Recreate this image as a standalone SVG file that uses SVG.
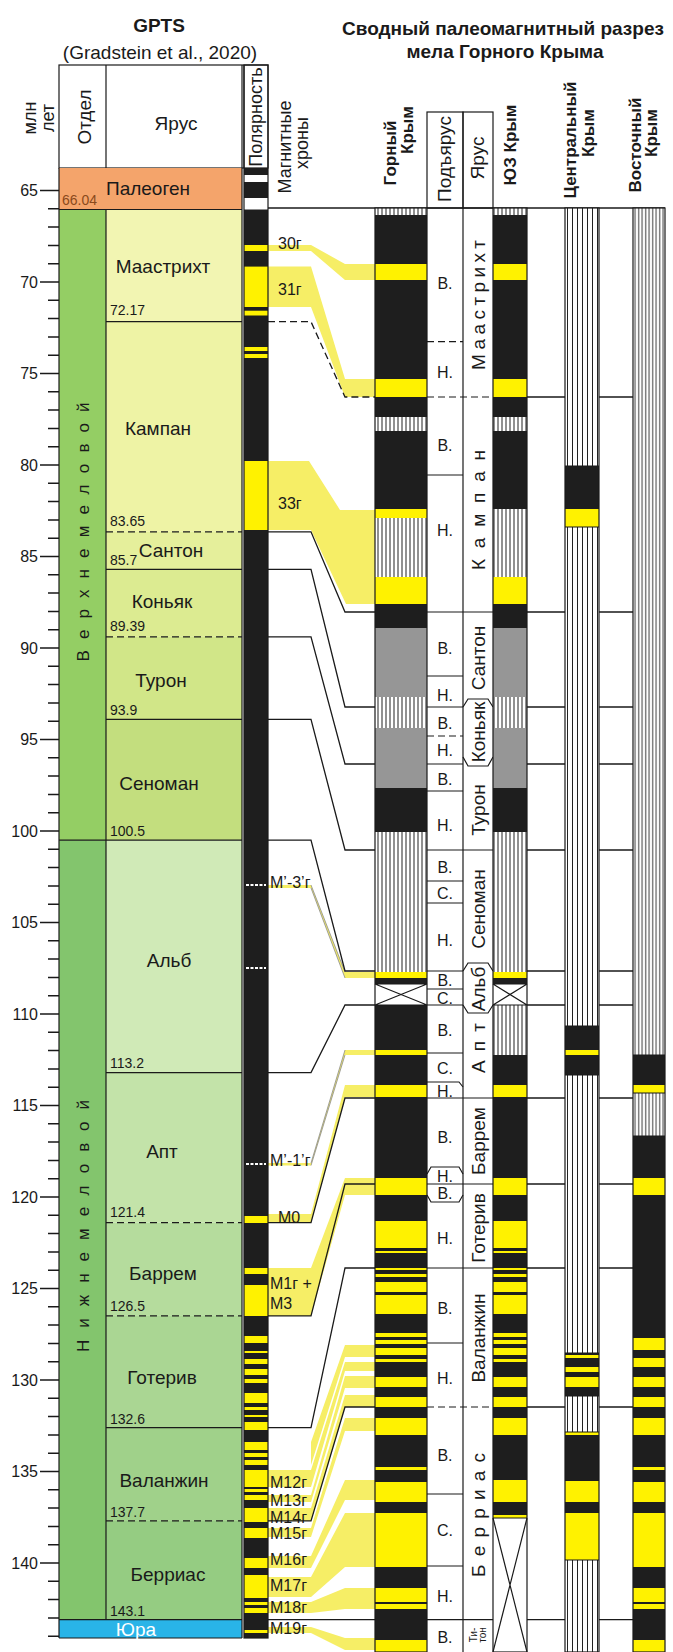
<svg xmlns="http://www.w3.org/2000/svg" width="673" height="1652" viewBox="0 0 673 1652">
<defs>
<pattern id="hg" x="0" y="0" width="4" height="10" patternUnits="userSpaceOnUse"><rect width="4" height="10" fill="#fff"/><rect x="1.5" width="1" height="10" fill="#222"/></pattern>
<pattern id="hc" x="0" y="0" width="5" height="10" patternUnits="userSpaceOnUse"><rect width="5" height="10" fill="#fff"/><rect x="2" width="1" height="10" fill="#222"/></pattern>
<pattern id="he" x="0" y="0" width="3.5" height="10" patternUnits="userSpaceOnUse"><rect width="3.5" height="10" fill="#fff"/><rect x="1.2" width="0.9" height="10" fill="#222"/></pattern>
</defs>
<style>
text{font-family:"Liberation Sans",Arial,sans-serif;fill:#1a1a1a}
.b{font-weight:bold}
.f19{font-size:19px}
.f18{font-size:18px}
.f17{font-size:17px}
.f16{font-size:16px}
.f14{font-size:14px;fill:#2a2a2a}
.f10{font-size:10px}
.m{text-anchor:middle}
.e{text-anchor:end}
.bk{fill:#1e1e1e}
.yl{fill:#fff200}
.gr{fill:#969696}
.hg{fill:url(#hg)}
.hc{fill:url(#hc)}
.he{fill:url(#he)}
.ol{fill:none;stroke:#1a1a1a;stroke-width:1.2}
.ln{fill:none;stroke:#1a1a1a;stroke-width:1.3}
.ds{stroke-dasharray:7 4}
.band{fill:#f6ee66}
.thin{fill:none;stroke:#8a8a8a;stroke-width:0.8}
.tick{fill:none;stroke:#1a1a1a;stroke-width:1.5}
</style>
<rect width="673" height="1652" fill="#fff"/>

<g id="titles">
<text class="b f19 m" x="159" y="32">GPTS</text>
<text class="f19 m" x="160" y="59">(Gradstein et al., 2020)</text>
<text class="b f19 m" x="503" y="35">Сводный палеомагнитный разрез</text>
<text class="b f19 m" x="505" y="58">мела Горного Крыма</text>
</g>

<g id="gpts-header">
<rect class="ol" x="59" y="65" width="209" height="103" fill="#fff"/>
<path class="ol" d="M106,65V168M242,65V168M244,65V168"/>
<text class="f18 m" transform="rotate(-90 36.3 118)" x="36.3" y="118">млн</text>
<text class="f18 m" transform="rotate(-90 53.8 118)" x="53.8" y="118">лет</text>
<text class="f19 m" transform="rotate(-90 91 117)" x="91" y="117">Отдел</text>
<text class="f19 m" x="176" y="130">Ярус</text>
<text class="f18 m" transform="rotate(-90 262 117)" x="262" y="117">Полярность</text>
<text class="f18 m" transform="rotate(-90 291 147)" x="291" y="147">Магнитные</text>
<text class="f18 m" transform="rotate(-90 308 143)" x="308" y="143">хроны</text>
</g>

<g id="gpts-scale">
<path class="tick" d="M40,190.5H59M40,282H59M40,373.5H59M40,465H59M40,556.5H59M40,648H59M40,739.5H59M40,831H59M40,922.5H59M40,1014H59M40,1105.5H59M40,1197H59M40,1288.5H59M40,1380H59M40,1471.5H59M40,1563H59"/>
<path class="tick" d="M48,208.8H59M48,227.1H59M48,245.4H59M48,263.7H59M48,300.3H59M48,318.6H59M48,336.9H59M48,355.2H59M48,391.8H59M48,410.1H59M48,428.4H59M48,446.7H59M48,483.3H59M48,501.6H59M48,519.9H59M48,538.2H59M48,574.8H59M48,593.1H59M48,611.4H59M48,629.7H59M48,666.3H59M48,684.6H59M48,702.9H59M48,721.2H59M48,757.8H59M48,776.1H59M48,794.4H59M48,812.7H59M48,849.3H59M48,867.6H59M48,885.9H59M48,904.2H59M48,940.8H59M48,959.1H59M48,977.4H59M48,995.7H59M48,1032.3H59M48,1050.6H59M48,1068.9H59M48,1087.2H59M48,1123.8H59M48,1142.1H59M48,1160.4H59M48,1178.7H59M48,1215.3H59M48,1233.6H59M48,1251.9H59M48,1270.2H59M48,1306.8H59M48,1325.1H59M48,1343.4H59M48,1361.7H59M48,1398.3H59M48,1416.6H59M48,1434.9H59M48,1453.2H59M48,1489.8H59M48,1508.1H59M48,1526.4H59M48,1544.7H59M48,1581.3H59M48,1599.6H59M48,1617.9H59M48,1636.2H59"/>
<g class="f16">
<text class="e" x="38" y="196.1">65</text>
<text class="e" x="38" y="287.6">70</text>
<text class="e" x="38" y="379.1">75</text>
<text class="e" x="38" y="470.6">80</text>
<text class="e" x="38" y="562.1">85</text>
<text class="e" x="38" y="653.6">90</text>
<text class="e" x="38" y="745.1">95</text>
<text class="e" x="38" y="836.6">100</text>
<text class="e" x="38" y="928.1">105</text>
<text class="e" x="38" y="1019.6">110</text>
<text class="e" x="38" y="1111.1">115</text>
<text class="e" x="38" y="1202.6">120</text>
<text class="e" x="38" y="1294.1">125</text>
<text class="e" x="38" y="1385.6">130</text>
<text class="e" x="38" y="1477.1">135</text>
<text class="e" x="38" y="1568.6">140</text>
</g>
</g>

<g id="gpts-stages">
<rect x="59" y="168" width="183" height="41.5" fill="#f4a46b"/>
<rect x="59" y="209.5" width="47" height="630.7" fill="#94ce64"/>
<rect x="59" y="840.2" width="47" height="779.5" fill="#83c56d"/>
<rect x="106" y="209.5" width="136" height="112.2" fill="#f2f5b2"/>
<rect x="106" y="321.7" width="136" height="210.1" fill="#eef3a5"/>
<rect x="106" y="531.8" width="136" height="37.5" fill="#e5ef9b"/>
<rect x="106" y="569.3" width="136" height="67.5" fill="#dceb91"/>
<rect x="106" y="636.8" width="136" height="82.6" fill="#d1e688"/>
<rect x="106" y="719.4" width="136" height="120.8" fill="#c3de7e"/>
<rect x="106" y="840.2" width="136" height="232.4" fill="#d0eab7"/>
<rect x="106" y="1072.6" width="136" height="150" fill="#c3e3a9"/>
<rect x="106" y="1222.6" width="136" height="93.3" fill="#b5dc9d"/>
<rect x="106" y="1315.9" width="136" height="111.7" fill="#aad693"/>
<rect x="106" y="1427.6" width="136" height="93.3" fill="#a0d18a"/>
<rect x="106" y="1520.9" width="136" height="98.8" fill="#95cc82"/>
<rect x="59" y="1619.7" width="183" height="18.3" fill="#29b4e8"/>
<path class="ol" d="M59,168V1638M106,209.5V1619.7M242,168V1638M59,1638H242M59,209.5H242M59,840.2H242M59,1619.7H242M106,321.7H242M106,569.3H242M106,719.4H242M106,1072.6H242M106,1427.6H242"/>
<path class="ol ds" d="M106,531.8H242M106,636.8H242M106,1222.6H242M106,1315.9H242M106,1520.9H242"/>
<text class="f17 m" transform="rotate(-90 89 532)" x="89" y="532" textLength="259" lengthAdjust="spacing" fill="#333">Верхнемеловой</text>
<text class="f17 m" transform="rotate(-90 89 1226)" x="89" y="1226" textLength="252" lengthAdjust="spacing" fill="#333">Нижнемеловой</text>
<g class="f19 m">
<text x="148" y="194.6">Палеоген</text>
<text x="163" y="272.6">Маастрихт</text>
<text x="158" y="434.6">Кампан</text>
<text x="171" y="556.6">Сантон</text>
<text x="162" y="607.6">Коньяк</text>
<text x="161" y="686.6">Турон</text>
<text x="159" y="789.6">Сеноман</text>
<text x="169" y="966.6">Альб</text>
<text x="162" y="1157.6">Апт</text>
<text x="163" y="1279.6">Баррем</text>
<text x="162" y="1383.6">Готерив</text>
<text x="164" y="1486.6">Валанжин</text>
<text x="168" y="1580.6">Берриас</text>
<text x="136" y="1636" style="fill:#fff">Юра</text>
</g>
<g class="f14">
<text x="62" y="205" style="fill:#8a4a1c">66.04</text>
<text x="110" y="315">72.17</text>
<text x="110" y="526">83.65</text>
<text x="110" y="565">85.7</text>
<text x="110" y="631">89.39</text>
<text x="110" y="715">93.9</text>
<text x="110" y="836">100.5</text>
<text x="110" y="1068">113.2</text>
<text x="110" y="1217">121.4</text>
<text x="110" y="1311">126.5</text>
<text x="110" y="1424">132.6</text>
<text x="110" y="1517">137.7</text>
<text x="110" y="1616">143.1</text>
</g>
</g>

<g id="connectors">
<g class="band">
<polygon points="268,245 311,245 345,264 375,264 375,280 345,280 311,251 268,251"/>
<polygon points="268,266.6 311,266.6 345,379 375,379 375,397 345,397 311,307 268,307"/>
<polygon points="268,461 309,461 340,510 375,510 375,604 346,604 311,530 268,530"/>
<polygon points="268,885 311,885 345,972 375,972 375,978 345,978 311,888 268,888"/>
<polygon points="268,1163 311,1163 345,1050 375,1050 375,1055 345,1055 311,1165.5 268,1165.5"/>
<polygon points="268,1214 311,1214 345,1085 375,1085 375,1097 345,1097 311,1223 268,1223"/>
<polygon points="268,1268 311,1268 345,1178 375,1178 375,1195 345,1195 311,1316 268,1316"/>
<polygon points="311,1442 345,1345 375,1345 375,1357 345,1357 311,1465"/>
<polygon points="268,1470 311,1470 345,1362 375,1362 375,1371 345,1371 311,1487 268,1487"/>
<polygon points="268,1495 311,1495 345,1376 375,1376 375,1388 345,1388 311,1502 268,1502"/>
<polygon points="268,1508 311,1508 345,1395 375,1395 375,1407 345,1407 311,1521 268,1521"/>
<polygon points="268,1528 311,1528 345,1418 375,1418 375,1431 345,1431 311,1537 268,1537"/>
<polygon points="268,1556 311,1556 345,1480 375,1480 375,1500 345,1500 311,1568 268,1568"/>
<polygon points="268,1577 311,1577 345,1513 375,1513 375,1567 345,1567 311,1597 268,1597"/>
<polygon points="268,1602 311,1602 345,1588 375,1588 375,1609 345,1609 311,1613 268,1613"/>
<polygon points="268,1627 311,1627 345,1638 375,1638 375,1650 345,1650 311,1633 268,1633"/>
</g>
<path class="thin" d="M311,885L345,972M311,888L345,978M311,1163L345,1050M311,1165.5L345,1055"/>
<path class="ln" d="M268,208H665"/>
<path class="ln ds" d="M268,321.7H311L345,397H375"/>
<path class="ln" d="M268,531.8H311L345,612H375M268,569.3H311L345,707H375M268,636.8H311L345,764H375M268,719.4H311L345,850H375M268,840.2H311L345,971H375M268,1072.6H311L345,1005H375M268,1222.6H311L345,1098H375M268,1315.9H311L345,1184H375M268,1427.6H311L345,1268H375M268,1520.9H311L345,1407H375M268,1619.7H375"/>
<path class="ln" d="M527,397H565M599,397H633M527,612H565M599,612H633M527,707H565M599,707H633M527,764H565M599,764H633M527,850H565M599,850H633M527,971H565M599,971H633M527,1005H565M599,1005H633M527,1098H565M599,1098H633M527,1184H565M599,1184H633M527,1268H565M599,1268H633M527,1407H565M599,1407H633M527,1619.7H565M599,1619.7H633"/>
</g>

<g id="gpts-polarity">
<rect class="bk" x="244" y="168" width="24" height="1470"/>
<rect x="244" y="175" width="24" height="7" fill="#fff"/>
<rect x="244" y="198" width="24" height="11.5" fill="#fff"/>
<g class="yl">
<rect x="244" y="245" width="24" height="6"/>
<rect x="244" y="266.6" width="24" height="40.4"/>
<rect x="244" y="310.7" width="24" height="4.8"/>
<rect x="244" y="347" width="24" height="4"/>
<rect x="244" y="354" width="24" height="4"/>
<rect x="244" y="461" width="24" height="69"/>
<rect x="244" y="1216" width="24" height="7"/>
<rect x="244" y="1268" width="24" height="6"/>
<rect x="244" y="1285" width="24" height="31"/>
<rect x="244" y="1336" width="24" height="7"/>
<rect x="244" y="1351" width="24" height="2"/>
<rect x="244" y="1359" width="24" height="5"/>
<rect x="244" y="1369" width="24" height="6"/>
<rect x="244" y="1379" width="24" height="4"/>
<rect x="244" y="1393" width="24" height="10"/>
<rect x="244" y="1407" width="24" height="3"/>
<rect x="244" y="1415" width="24" height="2"/>
<rect x="244" y="1422" width="24" height="8"/>
<rect x="244" y="1442" width="24" height="8"/>
<rect x="244" y="1453" width="24" height="4"/>
<rect x="244" y="1460" width="24" height="5"/>
<rect x="244" y="1470" width="24" height="17"/>
<rect x="244" y="1489" width="24" height="3"/>
<rect x="244" y="1495" width="24" height="5"/>
<rect x="244" y="1508" width="24" height="14"/>
<rect x="244" y="1528" width="24" height="10"/>
<rect x="244" y="1558" width="24" height="10"/>
<rect x="244" y="1575" width="24" height="23"/>
<rect x="244" y="1602" width="24" height="3"/>
<rect x="244" y="1608" width="24" height="5"/>
<rect x="244" y="1630" width="24" height="3"/>
</g>
<path d="M246,885H266M246,968H266M246,1164H266" stroke="#fff" stroke-width="2" stroke-dasharray="3 1.5"/>
<rect class="ol" x="244" y="65" width="24" height="1573"/>
</g>

<g id="chron-labels" class="f16">
<text x="278" y="249">30г</text>
<text x="278" y="295">31г</text>
<text x="278" y="509">33г</text>
<text x="270" y="888">M’-3’г</text>
<text x="270" y="1166">M’-1’г</text>
<text x="278" y="1223">M0</text>
<text x="270" y="1289">M1г +</text>
<text x="270" y="1309">M3</text>
<text x="270" y="1488">M12г</text>
<text x="270" y="1506">M13г</text>
<text x="270" y="1523">M14г</text>
<text x="270" y="1539">M15г</text>
<text x="270" y="1565">M16г</text>
<text x="270" y="1591">M17г</text>
<text x="270" y="1613">M18г</text>
<text x="270" y="1634">M19г</text>
</g>

<g id="section-header">
<text class="b f17 m" transform="rotate(-90 396 153)" x="396" y="153">Горный</text>
<text class="b f17 m" transform="rotate(-90 413 130)" x="413" y="130">Крым</text>
<rect class="ol" x="427" y="112" width="36" height="96"/>
<rect class="ol" x="463" y="112" width="30" height="96"/>
<text class="f19 m" transform="rotate(-90 450.6 159)" x="450.6" y="159">Подъярус</text>
<text class="f19 m" transform="rotate(-90 483.6 158)" x="483.6" y="158">Ярус</text>
<text class="b f17 m" transform="rotate(-90 516 145)" x="516" y="145">ЮЗ Крым</text>
<text class="b f17 m" transform="rotate(-90 576 140)" x="576" y="140">Центральный</text>
<text class="b f17 m" transform="rotate(-90 594 133)" x="594" y="133">Крым</text>
<text class="b f17 m" transform="rotate(-90 641 145)" x="641" y="145">Восточный</text>
<text class="b f17 m" transform="rotate(-90 657 133)" x="657" y="133">Крым</text>
</g>

<g id="col-gorny">
<rect class="bk" x="375" y="208" width="52" height="1444"/>
<g class="hg">
<rect x="375" y="208" width="52" height="7"/>
<rect x="375" y="417" width="52" height="14"/>
<rect x="375" y="518" width="52" height="59"/>
<rect x="375" y="697" width="52" height="31"/>
<rect x="375" y="832" width="52" height="140"/>
</g>
<g class="gr">
<rect x="375" y="628" width="52" height="69"/>
<rect x="375" y="728" width="52" height="60"/>
</g>
<g class="yl">
<rect x="375" y="264" width="52" height="16"/>
<rect x="375" y="379" width="52" height="18"/>
<rect x="375" y="509" width="52" height="9"/>
<rect x="375" y="577" width="52" height="27"/>
<rect x="375" y="972" width="52" height="6"/>
<rect x="375" y="1050" width="52" height="5"/>
<rect x="375" y="1085" width="52" height="12"/>
<rect x="375" y="1178" width="52" height="17"/>
<rect x="375" y="1221" width="52" height="27"/>
<rect x="375" y="1251" width="52" height="2"/>
<rect x="375" y="1268" width="52" height="2"/>
<rect x="375" y="1274" width="52" height="3"/>
<rect x="375" y="1282" width="52" height="10"/>
<rect x="375" y="1295" width="52" height="19"/>
<rect x="375" y="1333" width="52" height="4"/>
<rect x="375" y="1340" width="52" height="4"/>
<rect x="375" y="1348" width="52" height="7"/>
<rect x="375" y="1359" width="52" height="3"/>
<rect x="375" y="1377" width="52" height="10"/>
<rect x="375" y="1397" width="52" height="10"/>
<rect x="375" y="1418" width="52" height="17"/>
<rect x="375" y="1467" width="52" height="3"/>
<rect x="375" y="1482" width="52" height="20"/>
<rect x="375" y="1513" width="52" height="54"/>
<rect x="375" y="1588" width="52" height="14"/>
<rect x="375" y="1604" width="52" height="5"/>
<rect x="375" y="1640" width="52" height="12"/>
</g>
<rect x="375" y="984" width="52" height="21" fill="#fff"/>
<path class="ol" d="M375,984L427,1005M427,984L375,1005M375,984H427M375,1005H427"/>
<rect class="ol" x="375" y="208" width="52" height="1444"/>
</g>

<g id="col-podyarus">
<path class="ol" d="M463,208V1652"/>
<path class="ol" d="M427,475H463M427,676H463M427,791H463M427,881H463M427,903H463M427,989H463M427,1053H463M427,1343H463M427,1494H463M427,1566H463M427,707H463M427,764H463M427,971H463M427,1005H463M427,612H493M427,850H493M427,1098H493M427,1184H493M427,1268H493M427,1619.7H493"/>
<path class="ol ds" d="M427,341.7H463M427,736H463M427,397H493M427,1407H493"/>
<path class="ol" d="M427,1082H459L463,1087M427,1174L431,1167H459L463,1174M427,1195L431,1202H459L463,1195"/>
<g class="f16 m">
<text x="445" y="288.6">В.</text>
<text x="445" y="377.6">Н.</text>
<text x="445" y="450.6">В.</text>
<text x="445" y="535.6">Н.</text>
<text x="445" y="653.6">В.</text>
<text x="445" y="700.6">Н.</text>
<text x="445" y="728.6">В.</text>
<text x="445" y="755.6">Н.</text>
<text x="445" y="784.6">В.</text>
<text x="445" y="830.6">Н.</text>
<text x="445" y="872.6">В.</text>
<text x="445" y="898.6">С.</text>
<text x="445" y="945.6">Н.</text>
<text x="445" y="985.6">В.</text>
<text x="445" y="1003.6">С.</text>
<text x="445" y="1035.6">В.</text>
<text x="445" y="1073.6">С.</text>
<text x="445" y="1096.6">Н.</text>
<text x="445" y="1142.6">В.</text>
<text x="445" y="1181.6">Н.</text>
<text x="445" y="1198.6">В.</text>
<text x="445" y="1243.6">Н.</text>
<text x="445" y="1313.6">В.</text>
<text x="445" y="1383.6">Н.</text>
<text x="445" y="1460.6">В.</text>
<text x="445" y="1535.6">С.</text>
<text x="445" y="1601.6">Н.</text>
<text x="445" y="1642.6">В.</text>
</g>
</g>

<g id="col-yarus">
<path class="ol" d="M463,707L468,699H488L493,707M463,757L468,766H488L493,757M463,971L468,963H488L493,971M463,1005L468,1013H488L493,1005"/>
<g class="f19 m">
<text transform="rotate(-90 484.5 305)" x="484.5" y="305" textLength="130" lengthAdjust="spacing">Маастрихт</text>
<text transform="rotate(-90 484.5 510)" x="484.5" y="510" textLength="120" lengthAdjust="spacing">Кампан</text>
<text transform="rotate(-90 484.5 658)" x="484.5" y="658">Сантон</text>
<text transform="rotate(-90 484.5 732)" x="484.5" y="732">Коньяк</text>
<text transform="rotate(-90 484.5 810)" x="484.5" y="810">Турон</text>
<text transform="rotate(-90 484.5 909)" x="484.5" y="909">Сеноман</text>
<text transform="rotate(-90 484.5 989)" x="484.5" y="989">Альб</text>
<text transform="rotate(-90 484.5 1048)" x="484.5" y="1048" textLength="50" lengthAdjust="spacing">Апт</text>
<text transform="rotate(-90 484.5 1141)" x="484.5" y="1141">Баррем</text>
<text transform="rotate(-90 484.5 1228)" x="484.5" y="1228">Готерив</text>
<text transform="rotate(-90 484.5 1338)" x="484.5" y="1338">Валанжин</text>
<text transform="rotate(-90 484.5 1515)" x="484.5" y="1515" textLength="124" lengthAdjust="spacing">Берриас</text>
</g>
<text class="f10 m" transform="rotate(-90 477 1635)" x="477" y="1635">Ти-</text>
<text class="f10 m" transform="rotate(-90 486 1635)" x="486" y="1635">тон</text>
</g>

<g id="col-yuz">
<rect class="bk" x="493" y="208" width="34" height="1444"/>
<g class="hg">
<rect x="493" y="208" width="34" height="7"/>
<rect x="493" y="417" width="34" height="14"/>
<rect x="493" y="509" width="34" height="68"/>
<rect x="493" y="697" width="34" height="31"/>
<rect x="493" y="832" width="34" height="140"/>
<rect x="493" y="1005" width="34" height="50"/>
</g>
<g class="gr">
<rect x="493" y="628" width="34" height="69"/>
<rect x="493" y="728" width="34" height="60"/>
</g>
<g class="yl">
<rect x="493" y="264" width="34" height="16"/>
<rect x="493" y="379" width="34" height="18"/>
<rect x="493" y="577" width="34" height="27"/>
<rect x="493" y="972" width="34" height="6"/>
<rect x="493" y="1085" width="34" height="12"/>
<rect x="493" y="1178" width="34" height="17"/>
<rect x="493" y="1221" width="34" height="27"/>
<rect x="493" y="1251" width="34" height="2"/>
<rect x="493" y="1268" width="34" height="2"/>
<rect x="493" y="1274" width="34" height="3"/>
<rect x="493" y="1282" width="34" height="10"/>
<rect x="493" y="1295" width="34" height="19"/>
<rect x="493" y="1333" width="34" height="4"/>
<rect x="493" y="1340" width="34" height="4"/>
<rect x="493" y="1348" width="34" height="7"/>
<rect x="493" y="1359" width="34" height="3"/>
<rect x="493" y="1377" width="34" height="10"/>
<rect x="493" y="1397" width="34" height="10"/>
<rect x="493" y="1418" width="34" height="17"/>
<rect x="493" y="1480" width="34" height="22"/>
<rect x="493" y="1515" width="34" height="3"/>
</g>
<rect x="493" y="984" width="34" height="21" fill="#fff"/>
<rect x="493" y="1518" width="34" height="134" fill="#fff"/>
<path class="ol" d="M493,984L527,1005M527,984L493,1005M493,984H527M493,1005H527M493,1518L527,1652M527,1518L493,1652M493,1518H527"/>
<rect class="ol" x="493" y="208" width="34" height="1444"/>
</g>

<g id="col-central">
<rect class="hc" x="565" y="208" width="34" height="1444"/>
<g class="bk">
<rect x="565" y="466" width="34" height="43"/>
<rect x="565" y="1026" width="34" height="49"/>
<rect x="565" y="1353" width="34" height="43"/>
<rect x="565" y="1432" width="34" height="81"/>
</g>
<g class="yl">
<rect x="565" y="509" width="34" height="18"/>
<rect x="565" y="1050" width="34" height="5"/>
<rect x="565" y="1355" width="34" height="3"/>
<rect x="565" y="1367" width="34" height="5"/>
<rect x="565" y="1377" width="34" height="10"/>
<rect x="565" y="1432" width="34" height="3"/>
<rect x="565" y="1481" width="34" height="21"/>
<rect x="565" y="1513" width="34" height="47"/>
</g>
<path class="ol" d="M565,466H599M565,527H599M565,1026H599M565,1075H599M565,1353H599M565,1396H599M565,1432H599M565,1560H599"/>
<rect class="ol" x="565" y="208" width="34" height="1444"/>
</g>

<g id="col-east">
<rect class="he" x="633" y="208" width="32" height="1444"/>
<g class="bk">
<rect x="633" y="1055" width="32" height="38"/>
<rect x="633" y="1136" width="32" height="516"/>
</g>
<g class="yl">
<rect x="633" y="1085" width="32" height="8"/>
<rect x="633" y="1178" width="32" height="17"/>
<rect x="633" y="1338" width="32" height="12"/>
<rect x="633" y="1358" width="32" height="9"/>
<rect x="633" y="1377" width="32" height="10"/>
<rect x="633" y="1397" width="32" height="10"/>
<rect x="633" y="1418" width="32" height="17"/>
<rect x="633" y="1467" width="32" height="3"/>
<rect x="633" y="1482" width="32" height="20"/>
<rect x="633" y="1513" width="32" height="54"/>
<rect x="633" y="1588" width="32" height="14"/>
<rect x="633" y="1604" width="32" height="5"/>
<rect x="633" y="1640" width="32" height="12"/>
</g>
<path class="ol" d="M633,1055H665M633,1093H665M633,1136H665"/>
<rect class="ol" x="633" y="208" width="32" height="1444"/>
</g>
</svg>
